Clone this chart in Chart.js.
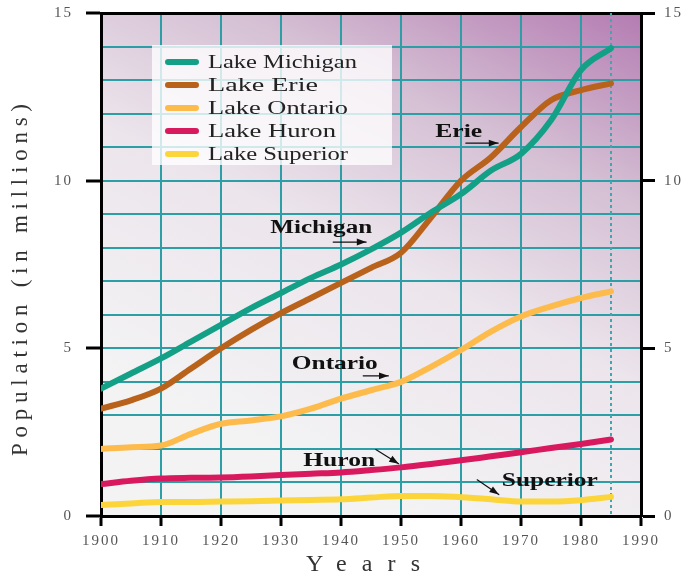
<!DOCTYPE html>
<html>
<head>
<meta charset="utf-8">
<script src="https://cdn.jsdelivr.net/npm/chart.js@4.4.1/dist/chart.umd.min.js"></script>
<style>
  html, body { margin: 0; padding: 0; background: #fff; }
  #wrap { width: 689px; height: 577px; }
</style>
</head>
<body>
<div id="wrap"><canvas id="grafico" width="689" height="577"></canvas></div>
<script>
// datos (millones de habitantes)
const years = [1900, 1905, 1910, 1915, 1920, 1925, 1930, 1935, 1940, 1945, 1950, 1955, 1960, 1965, 1970, 1975, 1980, 1985];
const michigan = [3.8, 4.25, 4.7, 5.2, 5.7, 6.2, 6.65, 7.1, 7.5, 7.95, 8.45, 9.05, 9.6, 10.3, 10.8, 11.8, 13.3, 13.95];
const erie = [3.2, 3.45, 3.8, 4.4, 5.0, 5.55, 6.05, 6.5, 6.95, 7.4, 7.85, 8.9, 10.0, 10.7, 11.6, 12.4, 12.7, 12.9];
const ontario = [2.0, 2.05, 2.1, 2.45, 2.75, 2.85, 2.97, 3.2, 3.5, 3.75, 4.0, 4.45, 4.95, 5.5, 5.95, 6.25, 6.5, 6.7];
const huron = [0.95, 1.05, 1.12, 1.14, 1.15, 1.18, 1.22, 1.26, 1.3, 1.37, 1.45, 1.55, 1.66, 1.78, 1.9, 2.03, 2.15, 2.28];
const superior = [0.33, 0.37, 0.42, 0.42, 0.43, 0.44, 0.46, 0.48, 0.5, 0.55, 0.6, 0.6, 0.56, 0.5, 0.43, 0.43, 0.47, 0.57];

const seriesNames = ['Lake Michigan', 'Lake Erie', 'Lake Ontario', 'Lake Huron', 'Lake Superior'];
const seriesColors = ['#14a086', '#b8621c', '#fdbb4c', '#d8195e', '#fcd53a'];
const seriesValues = [michigan, erie, ontario, huron, superior];

const yTicks = [0, 5, 10, 15];
const xTicks = [1900, 1910, 1920, 1930, 1940, 1950, 1960, 1970, 1980, 1990];

// etiquetas sobre el grafico: [texto, año, valor] y flechas [x1, y1, x2, y2]
const notes = [
  ['Erie', 1955.7, 11.45],
  ['Michigan', 1928.2, 8.58],
  ['Ontario', 1931.8, 4.53],
  ['Huron', 1933.7, 1.63],
  ['Superior', 1966.8, 1.02]
];
const noteWidths = [47, 102, 86, 72, 96];
const legendWidths = [149, 110, 140, 128, 140];
const arrows = [
  [1960.8, 11.12, 1966.2, 11.12],
  [1938.7, 8.17, 1944.2, 8.17],
  [1943.7, 4.18, 1947.9, 4.18],
  [1945.8, 1.98, 1949.6, 1.56],
  [1962.7, 1.08, 1966.3, 0.64]
];

const serif = '"Liberation Serif", "DejaVu Serif", serif';
const grid = '#2b9ea6';

const datasets = seriesNames.map((name, i) => ({
  label: name,
  data: years.map((y, j) => ({ x: y, y: seriesValues[i][j] })),
  borderColor: seriesColors[i],
  backgroundColor: seriesColors[i],
  borderWidth: 6,
  borderCapStyle: 'round',
  pointRadius: 0,
  fill: false,
  cubicInterpolationMode: 'monotone'
}));

// texto con letras separadas (titulos de ejes)
function spacedText(ctx, text, x, y, width) {
  ctx.letterSpacing = '0px';
  const natural = ctx.measureText(text).width;
  const sp = Math.max(0, (width - natural) / (text.length - 1));
  ctx.letterSpacing = sp + 'px';
  ctx.fillText(text, x, y);
  ctx.letterSpacing = '0px';
}

// texto estirado a lo ancho (leyenda y rotulos)
function wideText(ctx, text, x, y, width) {
  ctx.letterSpacing = '0px';
  const natural = ctx.measureText(text).width;
  ctx.save();
  ctx.translate(x, y);
  ctx.scale(width / natural, 1);
  ctx.fillText(text, 0, 0);
  ctx.restore();
}

const decor = {
  id: 'decor',
  beforeDraw(chart) {
    const { ctx, chartArea: a } = chart;
    ctx.save();
    const g = ctx.createLinearGradient(a.right, a.top, a.left + (a.right - a.left) * 0.55, a.bottom);
    g.addColorStop(0, '#b47cb2');
    g.addColorStop(0.3, '#d4bed3');
    g.addColorStop(0.6, '#ece5ec');
    g.addColorStop(1, '#f3f3f4');
    ctx.fillStyle = g;
    ctx.fillRect(a.left, a.top, a.right - a.left, a.bottom - a.top);
    ctx.restore();
    // numeros de los ejes algo espaciados, como en el original
    ctx.letterSpacing = '2px';
  },
  beforeDatasetsDraw(chart) {
    const { ctx, chartArea: a, scales } = chart;
    ctx.letterSpacing = '0px';
    const xd = scales.x.getPixelForValue(1985);
    ctx.save();
    ctx.strokeStyle = '#3aa9b0';
    ctx.lineWidth = 2;
    ctx.setLineDash([3, 3]);
    ctx.beginPath();
    ctx.moveTo(xd, a.top);
    ctx.lineTo(xd, a.bottom);
    ctx.stroke();
    ctx.restore();
  },
  afterDraw(chart) {
    const { ctx, chartArea: a, scales } = chart;
    const px = v => scales.x.getPixelForValue(v);
    const py = v => scales.y.getPixelForValue(v);
    ctx.save();

    // leyenda
    ctx.fillStyle = 'rgba(255,255,255,0.78)';
    ctx.fillRect(152, 45, 240, 120);
    ctx.font = '19px ' + serif;
    ctx.textBaseline = 'middle';
    ctx.textAlign = 'left';
    seriesNames.forEach((name, i) => {
      const yy = 62 + i * 23;
      ctx.strokeStyle = seriesColors[i];
      ctx.lineWidth = 6;
      ctx.lineCap = 'round';
      ctx.beginPath();
      ctx.moveTo(168, yy);
      ctx.lineTo(196, yy);
      ctx.stroke();
      ctx.fillStyle = '#222';
      wideText(ctx, name, 208, yy + 1, legendWidths[i]);
    });

    // etiquetas
    ctx.font = 'bold 18px ' + serif;
    ctx.fillStyle = '#111';
    notes.forEach((n, i) => wideText(ctx, n[0], px(n[1]), py(n[2]), noteWidths[i]));
    ctx.strokeStyle = '#111';
    ctx.fillStyle = '#111';
    ctx.lineWidth = 1.2;
    arrows.forEach(r => {
      const x1 = px(r[0]), y1 = py(r[1]), x2 = px(r[2]), y2 = py(r[3]);
      const ang = Math.atan2(y2 - y1, x2 - x1);
      ctx.beginPath();
      ctx.moveTo(x1, y1);
      ctx.lineTo(x2, y2);
      ctx.stroke();
      ctx.beginPath();
      ctx.moveTo(x2, y2);
      ctx.lineTo(x2 - 10 * Math.cos(ang - 0.35), y2 - 10 * Math.sin(ang - 0.35));
      ctx.lineTo(x2 - 10 * Math.cos(ang + 0.35), y2 - 10 * Math.sin(ang + 0.35));
      ctx.closePath();
      ctx.fill();
    });

    // titulos de ejes
    ctx.fillStyle = '#333';
    ctx.font = '23px ' + serif;
    ctx.textAlign = 'left';
    ctx.textBaseline = 'middle';
    ctx.save();
    ctx.translate(21, 456);
    ctx.rotate(-Math.PI / 2);
    spacedText(ctx, 'Population (in millions)', 0, 0, 352);
    ctx.restore();
    ctx.font = '24px ' + serif;
    spacedText(ctx, 'Years', 306, 565, 114);
    ctx.restore();
  }
};

const tickCol = c => (c.tick && c.tick.value % 5 === 0) ? '#000' : 'rgba(0,0,0,0)';
const noPadV = s => { s.paddingTop = 0; s.paddingBottom = 0; };

new Chart(document.getElementById('grafico').getContext('2d'), {
  type: 'line',
  data: { datasets },
  options: {
    responsive: false,
    animation: false,
    layout: { padding: { top: 13, left: 0, right: 0, bottom: 0 } },
    plugins: { legend: { display: false }, tooltip: { enabled: false } },
    scales: {
      x: {
        type: 'linear',
        min: 1900,
        max: 1990,
        afterFit: s => { s.height = 61; s.paddingLeft = 0; s.paddingRight = 0; },
        afterBuildTicks: s => { s.ticks = xTicks.map(v => ({ value: v })); },
        grid: { color: grid, lineWidth: 2, tickColor: '#000', tickWidth: 3, tickLength: 10 },
        border: { color: '#000', width: 3 },
        ticks: { font: { family: serif, size: 15 }, color: '#555', padding: 6, maxRotation: 0, callback: v => String(v) }
      },
      x2: {
        type: 'linear',
        position: 'top',
        min: 1900,
        max: 1990,
        afterFit: s => { s.height = 0; s.paddingLeft = 0; s.paddingRight = 0; },
        grid: { drawOnChartArea: false, drawTicks: false },
        border: { color: '#000', width: 3 },
        ticks: { display: false }
      },
      y: {
        min: 0,
        max: 15,
        afterFit: s => { s.width = 101; noPadV(s); },
        afterBuildTicks: s => { s.ticks = Array.from({ length: 16 }, (_, i) => ({ value: i })); },
        grid: { color: grid, lineWidth: 2, tickColor: tickCol, tickWidth: 3, tickLength: 15 },
        border: { color: '#000', width: 3 },
        ticks: { font: { family: serif, size: 15 }, color: '#555', padding: 13,
          callback: v => yTicks.includes(v) ? String(v) : '' }
      },
      y2: {
        position: 'right',
        min: 0,
        max: 15,
        afterFit: s => { s.width = 48; noPadV(s); },
        afterBuildTicks: s => { s.ticks = yTicks.map(v => ({ value: v })); },
        grid: { drawOnChartArea: false, tickColor: '#000', tickWidth: 3, tickLength: 14 },
        border: { color: '#000', width: 3 },
        ticks: { font: { family: serif, size: 15 }, color: '#555', padding: 9, callback: v => String(v) }
      }
    }
  },
  plugins: [decor]
});
</script>
</body>
</html>
